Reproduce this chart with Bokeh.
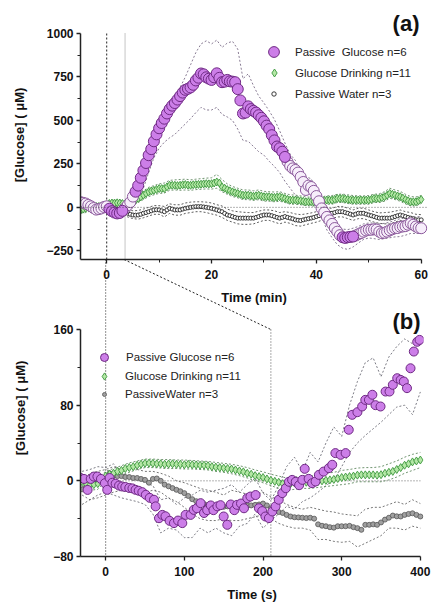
import numpy as np
from bokeh.plotting import figure
from bokeh.models import Range1d, FixedTicker, Span, Legend, LegendItem
from bokeh.core.properties import value
from bokeh.layouts import column
from bokeh.embed import file_html
from bokeh.resources import INLINE

# ---------------- DATA: panel (a), time in minutes ----------------
T_TOP = [-5 + 0.5 * i for i in range(131)]          # 30-s samples
T_TOP_BAND = list(range(-5, 61))                    # band read every minute

PG_TOP = [30, 26, 22, 14, 6, -4, -13, -10, -6, 2,
          6, -8, -22, -30, -35, -32, -20, -5, 12, 30,
          62, 90, 125, 170, 212, 255, 300, 335, 380, 420,
          455, 485, 510, 540, 565, 585, 600, 620, 640, 660,
          676, 682, 690, 705, 730, 746, 770, 765, 748, 740,
          733, 748, 771, 745, 720, 723, 733, 725, 723, 720,
          680, 615, 540, 545, 581, 565, 555, 545, 530, 515,
          495, 470, 450, 415, 385, 350, 340, 320, 290, 262,
          238, 224, 215, 200, 175, 146, 100, 125, 117, 95,
          65, 35, -6, -30, -55, -75, -95, -119, -140, -160,
          -172, -176, -172, -170, -168, -162, -155, -148, -140, -133,
          -129, -129, -126, -128, -140, -148, -146, -140, -132, -126,
          -120, -119, -112, -110, -108, -100, -92, -100, -110, -118,
          -120]
PG_TOP_FILLED = [(0.5, 3.0), (5.5, 34.0), (45.0, 47.0)]   # filled-marker windows
PG_TOP_HI = [55, 45, 30, 15, 15, 25, 0, -10, 5, 40,
             100, 160, 230, 350, 410, 460, 505, 570, 625, 690,
             750, 820, 890, 940, 958, 940, 962, 920, 945, 955,
             910, 740, 768, 700, 640, 600, 555, 505, 440, 370,
             305, 270, 200, 175, 165, 105, 55, 0, -40, -100,
             -125, -128, -120, -110, -95, -90, -90, -95, -92, -85,
             -75, -65, -62, -55, -55, -52]
PG_TOP_LO = [5, 0, -15, -35, -25, -10, -45, -60, -50, -20,
             10, 45, 110, 200, 285, 340, 375, 400, 420, 450,
             480, 510, 545, 575, 560, 560, 575, 535, 520, 500,
             450, 385, 380, 350, 320, 300, 265, 235, 200, 150,
             110, 70, 45, 25, 15, 5, -50, -130, -175, -215,
             -235, -242, -228, -205, -185, -176, -180, -185, -180, -175,
             -170, -168, -160, -150, -150, -148]

GD_TOP = [-15, -10, -5, 0, 2, 3, 5, 5, 8, 10,
          15, 22, 25, 24, 26, 25, 22, 15, 18, 25,
          32, 42, 51, 60, 70, 80, 89, 94, 98, 103,
          108, 108, 108, 118, 127, 127, 127, 125, 127, 130,
          131, 128, 127, 130, 131, 132, 133, 135, 136, 135,
          136, 140, 146, 140, 117, 110, 102, 95, 89, 84,
          80, 75, 70, 70, 70, 67, 64, 67, 70, 65,
          61, 61, 61, 58, 57, 59, 61, 56, 51, 46,
          42, 42, 42, 40, 38, 35, 32, 32, 32, 32,
          32, 34, 36, 39, 42, 42, 42, 46, 51, 51,
          51, 48, 45, 43, 42, 42, 42, 42, 42, 42,
          42, 46, 51, 51, 51, 56, 61, 70, 80, 75,
          70, 65, 61, 53, 45, 38, 32, 32, 32, 38,
          45]
GD_TOP_HI = [5, 15, 20, 20, 25, 30, 40, 42, 38, 40,
             55, 75, 95, 115, 125, 135, 140, 155, 158, 160,
             162, 158, 162, 165, 168, 170, 190, 160, 135, 120,
             110, 100, 100, 95, 100, 92, 90, 88, 90, 80,
             72, 70, 66, 60, 58, 56, 60, 66, 68, 75,
             76, 72, 68, 66, 66, 68, 75, 78, 90, 110,
             100, 92, 75, 62, 60, 68]
GD_TOP_LO = [-35, -30, -20, -15, -10, 0, 8, 10, 5, 0,
             10, 28, 45, 62, 72, 80, 82, 98, 100, 98,
             100, 98, 102, 104, 106, 105, 110, 90, 75, 62,
             55, 45, 44, 40, 44, 36, 35, 32, 35, 28,
             18, 18, 15, 10, 8, 8, 12, 18, 18, 28,
             28, 22, 18, 18, 18, 18, 28, 28, 35, 52,
             45, 35, 20, 8, 8, 22]

PW_TOP = [5, 2, 0, -3, -5, -6, -8, -6, -4, -2,
          0, -2, -5, -8, -10, -12, -15, -25, -34, -40,
          -44, -45, -44, -40, -34, -30, -25, -20, -15, -14,
          -15, -20, -25, -15, -6, -10, -15, -15, -15, -10,
          -6, -3, 0, 2, 4, 4, 4, 2, 0, -3,
          -6, -10, -15, -20, -25, -35, -44, -48, -53, -58,
          -62, -62, -62, -62, -62, -62, -62, -58, -53, -48,
          -44, -44, -44, -48, -53, -58, -62, -58, -53, -58,
          -62, -66, -72, -74, -76, -72, -68, -65, -62, -58,
          -53, -48, -44, -39, -34, -34, -34, -30, -25, -25,
          -25, -30, -34, -39, -44, -39, -34, -34, -34, -39,
          -44, -48, -53, -58, -62, -62, -62, -62, -62, -58,
          -53, -48, -44, -48, -53, -58, -62, -66, -72, -72,
          -72]
PW_TOP_HI = [25, 20, 15, 12, 15, 20, 15, 10, 5, -10,
             -20, -18, -10, 0, 10, 10, 5, 20, 15, 15,
             25, 30, 32, 32, 30, 25, 15, 8, -10, -20,
             -25, -28, -30, -30, -22, -15, -15, -20, -30, -25,
             -30, -38, -42, -38, -32, -25, -15, -5, -5, 5,
             5, -5, -15, -5, -5, -15, -25, -32, -30, -28,
             -22, -15, -25, -30, -40, -42]
PW_TOP_LO = [-15, -20, -25, -28, -25, -20, -25, -30, -35, -55,
             -65, -68, -60, -50, -40, -40, -55, -35, -45, -45,
             -35, -30, -25, -25, -30, -38, -45, -58, -75, -85,
             -95, -98, -98, -95, -85, -75, -75, -85, -95, -85,
             -92, -105, -108, -100, -92, -85, -75, -65, -65, -55,
             -55, -65, -75, -65, -65, -75, -85, -92, -95, -95,
             -85, -75, -82, -92, -102, -102]

# ---------------- DATA: panel (b), time in seconds ----------------
PG_BOT_T = [-32, -27.5, -23, -19, -15, -10.5, -6, -1, 2, 5, 8.5, 12.7, 17, 21, 25,
            30, 34, 38, 42, 46.6, 51, 56, 61.4, 63.5, 67.8, 72, 76, 81.3, 86.8,
            92, 97.4, 101.6, 108, 112, 116, 120.7, 125, 129, 133.6, 137, 142,
            146, 150, 154.6, 159, 163.5, 167, 172, 175.8, 180, 184, 190.6, 194.8,
            199, 203, 207.5, 211.8, 216, 220, 224.5, 229, 233, 237, 241.6, 245.9,
            250, 253, 258, 262.4, 266.8, 271, 277, 283.7, 288, 292, 298.6, 305,
            309, 313.4, 320, 326, 330, 334.6, 339, 343, 349.4, 355.8, 360.8, 365,
            370.6, 375, 379, 383, 387.5, 391.7, 396, 399]
PG_BOT_V = [3, 2, -9.6, 2, 4.5, 4.5, 2, -2.5, -9.5, 3, -2, -3, -5, -6, -6.5,
            -7.5, -8, -9.5, -10.5, -12, -14.8, -18, -20, -27, -39.5, -36, -37.5, -42.3, -44.7,
            -42, -44.7, -36, -36, -30.7, -29, -23.6, -34, -31, -26, -31, -27,
            -25.7, -37.7, -46.5, -25, -31, -25.4, -24, -29, -18.3, -16.6, -15, -29,
            -32, -37.7, -39.4, -32.4, -27, -20, -13, -7.8, -1, 1, -1, -4.6,
            1, 12.7, 2.1, -2.5, -0.7, 6.3, 9.8, 13.4, 17, 29.3, 27.5, 29.3,
            54, 69.8, 72.6, 78.6, 85.6, 85.6, 91, 80, 78.6, 94.4, 94.4, 101.5,
            108.5, 106.7, 105, 98, 119, 136.7, 147, 149]
S_BAND = list(range(-30, 401, 10))
PG_BOT_HI = [10, 12, 15, 14, 18, 8, 5, 2, -2, -5, -20, -18, -25, -18, -15, -10,
             -12, -10, -8, -4, -12, -4, 3, -13, -21, -5, 15, 25, 10, 30, 20, 40,
             57, 47, 80, 105, 125, 130, 110, 131, 142, 150, 145, 152]
PG_BOT_LO = [-15, -20, -15, -12, -15, -18, -20, -22, -25, -35, -55, -50, -52, -60,
             -60, -50, -55, -50, -55, -58, -48, -45, -35, -50, -42, -35, -27, -30,
             -22, -18, -12, -5, 1, 15, 30, 40, 48, 55, 62, 70, 78, 80, 70, 94]

S_BOT = [-30 + 5 * i for i in range(87)]             # 5-s samples
GD_BOT = [-1, -3, -4, -4, -3, 0,
          5, 7, 8, 10, 11, 13, 14, 15, 16.5, 17.6,
          18.5, 18.7, 18.5, 18, 18, 17.5, 17.8, 18, 17.5, 17.5,
          17, 17.5, 17, 16.8, 16.5, 16.5, 16, 15, 14.5, 14,
          13.5, 13, 12.5, 11.5, 10.5, 9.5, 8, 7, 5.5, 4.5,
          3.5, 2, 0.5, -0.5, -1.5, -3, -3.5, -3, -2, -1.5,
          -1, -1.5, -1.5, -1, -0.7, 0, 0.5, 1, 1.5, 2.5,
          3.5, 4, 4.5, 5, 6, 6.3, 6.3, 6.3, 6.3, 6,
          6.5, 8, 9, 10, 12, 14, 16.5, 18, 20, 21,
          22]
GD_BOT_HI = [5, 2, 3, 10, 13, 16, 19, 21, 23, 23, 22.5, 22.5, 22, 22, 21.5, 21,
             20.5, 19.5, 18.5, 17.5, 16, 14, 11.5, 9.5, 7, 5, 3, 4, 5, 5, 6, 8,
             9, 11, 12, 13.5, 14, 14, 15, 18, 21, 25, 28, 30]
GD_BOT_LO = [-6, -10, -9, 0, 3, 6, 9, 12, 14, 14, 13.5, 13, 13, 12.5, 12.5, 12,
             11.5, 10, 9, 7.5, 5.5, 3, 0, -2, -5, -8, -10, -9, -8, -8, -7, -6,
             -5, -4, -3, -1, -1, -1, -1, 1, 4, 8, 11, 14]

PW_BOT = [-9, -6, -3, -2, 0, 2,
          4, 8, 6, 5, 5, 4, 4, 3, 3, 2,
          1, -2, 2, 2.5, 0, -4, -5.8, -7.7, -9.5, -11,
          -13, -16, -19.4, -21.5, -23.6, -24.5, -25.4, -26, -27, -27,
          -27.5, -27, -27, -26.5, -26, -26, -26.4, -26, -25.4, -25,
          -24, -26, -29, -31, -33, -34, -36, -37.7, -38.5, -38.7,
          -39, -39.4, -39, -40, -46, -47.5, -48, -49, -49.5, -48,
          -48, -48, -47.6, -49, -50, -51.8, -46.5, -46.5, -46, -46.5,
          -44, -41, -39, -36.7, -37.5, -37.7, -36, -35, -34.3, -36,
          -37.7]
PW_BOT_HI = [0, 8, 10, 12, 15, 12, 14, 12, 10, 10, 8, 5, 0, -2, -5, -8, -10, -12,
             -15, -10, -12, -14, -15, -12, -17, -20, -25, -28, -30, -28, -30, -32,
             -33, -35, -36, -37, -30, -28, -28, -25, -22, -25, -20, -24]
PW_BOT_LO = [-25, -20, -18, -15, -12, -10, -12, -10, -12, -10, -12, -18, -22, -28,
             -35, -40, -42, -42, -40, -42, -42, -40, -38, -36, -40, -45, -48, -50,
             -50, -52, -62, -62, -64, -65, -64, -70, -66, -62, -58, -50, -50, -52,
             -48, -50]

LABELS_TOP = ["Passive  Glucose n=6", "Glucose Drinking n=11", "Passive Water n=3"]
LABELS_BOT = ["Passive Glucose n=6", "Glucose Drinking n=11", "PassiveWater n=3"]
TICKS_TOP_X = [0, 20, 40, 60]
TICKS_TOP_Y = [-250, 0, 250, 500, 750, 1000]
TICKS_BOT_X = [0, 100, 200, 300, 400]
TICKS_BOT_Y = [-80, 0, 80, 160]
SWITCH_MIN = 3.5      # end of zoomed window, min
SWITCH_S = 210        # same, in seconds

# ---------------- STYLE / GEOMETRY ----------------
FONT = "Liberation Sans"
PURPLE_FILL, PURPLE_LINE = "#cc7ee8", "#6f2a84"
OPEN_FILL, OPEN_LINE = "#f7eefb", "#8c5a9c"
GREEN_FILL, GREEN_LINE = "#b4e7a6", "#3c973c"
PAGE = 0            # the Bokeh page template sets body margin to 0
W = 442
# panel (a): data box -300..1000 spans 226 px; 23 px of frame above it for "(a)"
TOP_AX_Y = (-300, 1000)
TOP_PANEL_H, TOP_EXTRA = 226, 23
TOP_X = (-5, 61.2)
TOP_Y = (TOP_AX_Y[0], TOP_AX_Y[1] + TOP_EXTRA * (TOP_AX_Y[1] - TOP_AX_Y[0]) / TOP_PANEL_H)
TOP_FW, TOP_FH = 347, TOP_PANEL_H + TOP_EXTRA
TOP_BL, TOP_BT, TOP_BB = 79, 10, 48
TOP_H = TOP_BT + TOP_FH + TOP_BB
# panel (b): data box -80..160 spans 227 px; frame reaches 70 px higher, up to panel (a)
BOT_AX_Y = (-80, 160)
BOT_PANEL_H, BOT_EXTRA = 227, 70
BOT_X = (-32, 404)
BOT_Y = (BOT_AX_Y[0], BOT_AX_Y[1] + BOT_EXTRA * (BOT_AX_Y[1] - BOT_AX_Y[0]) / BOT_PANEL_H)
BOT_FW, BOT_FH = 343, BOT_PANEL_H + BOT_EXTRA
BOT_BL, BOT_BT, BOT_BB = 80, 0, 48
OVERLAP = TOP_BB      # panel (b) canvas starts right under panel (a) frame
BOT_TOP_PAGE = PAGE + TOP_H - OVERLAP


def top_px(t, v):
    x = PAGE + TOP_BL + (t - TOP_X[0]) / (TOP_X[1] - TOP_X[0]) * TOP_FW
    y = PAGE + TOP_BT + (TOP_Y[1] - v) / (TOP_Y[1] - TOP_Y[0]) * TOP_FH
    return x, y


def top_data(x, y):
    t = TOP_X[0] + (x - PAGE - TOP_BL) / TOP_FW * (TOP_X[1] - TOP_X[0])
    v = TOP_Y[1] - (y - PAGE - TOP_BT) / TOP_FH * (TOP_Y[1] - TOP_Y[0])
    return t, v


def bot_data(x, y):
    s = BOT_X[0] + (x - PAGE - BOT_BL) / BOT_FW * (BOT_X[1] - BOT_X[0])
    v = BOT_Y[1] - (y - BOT_TOP_PAGE - BOT_BT) / BOT_FH * (BOT_Y[1] - BOT_Y[0])
    return s, v


def style(p, xticks, xminor, yticks, yminor, xlabel, ystand, xbounds, ybounds):
    p.grid.visible = False
    p.outline_line_color = None
    for ax in (p.xaxis[0], p.yaxis[0]):
        ax.axis_line_width = 1.5
        ax.axis_line_color = "#222222"
        ax.major_tick_line_color = "#222222"
        ax.minor_tick_line_color = "#222222"
        ax.major_tick_line_width = 1.3
        ax.minor_tick_line_width = 1.0
        ax.major_tick_in = 0
        ax.major_tick_out = 4
        ax.minor_tick_in = 0
        ax.minor_tick_out = 3
        ax.major_label_text_font = FONT
        ax.major_label_text_font_style = "bold"
        ax.major_label_text_font_size = "12px"
        ax.major_label_text_color = "#111111"
        ax.axis_label_text_font = FONT
        ax.axis_label_text_font_style = "bold"
        ax.axis_label_text_font_size = "13px"
        ax.axis_label_text_color = "#111111"
    p.xaxis[0].ticker = FixedTicker(ticks=xticks, minor_ticks=xminor)
    p.yaxis[0].ticker = FixedTicker(ticks=yticks, minor_ticks=yminor)
    p.xaxis[0].axis_label = xlabel
    p.yaxis[0].axis_label = "[Glucose] ( \u03bcM)"
    p.xaxis[0].major_label_standoff = 6
    p.yaxis[0].major_label_standoff = 3
    p.xaxis[0].axis_label_standoff = 8
    p.yaxis[0].axis_label_standoff = ystand
    p.xaxis[0].bounds = xbounds
    p.yaxis[0].bounds = ybounds


def band(p, x, y, color):
    p.line(x, y, line_color=color, line_width=0.8, line_dash="2 2")


def make_legend(p, renderer, label, cx, cy, frame_left, frame_bottom, g, h, text_x):
    lg = Legend(items=[LegendItem(label=label, renderers=[renderer])],
                location=(int(round(cx - g / 2 - frame_left)),
                          int(round(frame_bottom - (cy + h / 2)))),
                glyph_width=int(g), glyph_height=int(h), label_height=int(h),
                label_standoff=int(round(text_x - cx - g / 2)),
                padding=0, margin=0, spacing=0, border_line_alpha=0,
                background_fill_alpha=0, label_text_font=FONT,
                label_text_font_size="11.5px", label_text_color="#222222")
    p.add_layout(lg)


# ---------------- PANEL (a) ----------------
top = figure(frame_width=TOP_FW, frame_height=TOP_FH, x_range=Range1d(*TOP_X),
             y_range=Range1d(*TOP_Y), output_backend="svg", toolbar_location=None,
             min_border_left=TOP_BL, min_border_right=W - TOP_BL - TOP_FW,
             min_border_top=TOP_BT, min_border_bottom=TOP_BB)
style(top, TICKS_TOP_X, [10, 30, 50], TICKS_TOP_Y, [-125, 125, 375, 625, 875],
      "Time (min)", 16, (-5, 60), TOP_AX_Y)

top.add_layout(Span(location=0, dimension="width", line_color="#444444",
                    line_width=0.8, line_dash="1 2"))
top.segment(x0=[0], y0=[TOP_AX_Y[1]], x1=[0], y1=[TOP_AX_Y[0]],
            line_color="#222222", line_width=1, line_dash="2 2")
top.segment(x0=[SWITCH_MIN], y0=[TOP_AX_Y[1]], x1=[SWITCH_MIN], y1=[TOP_AX_Y[0]],
            line_color="#8a8a8a", line_width=1, line_dash="1 1")

band(top, T_TOP_BAND, PG_TOP_HI, "#6b5a78")
band(top, T_TOP_BAND, PG_TOP_LO, "#6b5a78")
band(top, T_TOP_BAND, GD_TOP_HI, "#4d7a4d")
band(top, T_TOP_BAND, GD_TOP_LO, "#4d7a4d")
band(top, T_TOP_BAND, PW_TOP_HI, "#333333")
band(top, T_TOP_BAND, PW_TOP_LO, "#333333")

r_pw = top.scatter(T_TOP, PW_TOP, marker="circle", size=4, fill_color="white",
                   line_color="#222222", line_width=0.9)
r_gd = top.scatter(T_TOP, GD_TOP, marker="diamond", size=8,
                   fill_color=GREEN_FILL, line_color=GREEN_LINE, line_width=0.9)

t_arr = np.array(T_TOP)
v_arr = np.array(PG_TOP)
filled = np.zeros(len(t_arr), dtype=bool)
for a, b in PG_TOP_FILLED:
    filled |= (t_arr >= a) & (t_arr <= b)
top.scatter(t_arr[~filled], v_arr[~filled], marker="circle", size=11,
            fill_color=OPEN_FILL, line_color=OPEN_LINE, line_width=1)
r_pg = top.scatter(t_arr[filled], v_arr[filled], marker="circle", size=11,
                   fill_color=PURPLE_FILL, line_color=PURPLE_LINE, line_width=1)

ta, va = top_data(418, 23)
top.text(x=[ta], y=[va], text=["(a)"], text_align="right", text_baseline="middle",
         text_font=value(FONT), text_font_style=value("bold"),
         text_font_size=value("22px"), text_color="#111111")

fl_top = PAGE + TOP_BL
fb_top = PAGE + TOP_BT + TOP_FH
make_legend(top, r_pg, LABELS_TOP[0], 272.7, 51.7, fl_top, fb_top, 27, 27, 294)
make_legend(top, r_gd, LABELS_TOP[1], 272.7, 72.7, fl_top, fb_top, 20, 27, 294)
make_legend(top, r_pw, LABELS_TOP[2], 272.7, 93.3, fl_top, fb_top, 11, 27, 294)

# ---------------- PANEL (b) ----------------
bot = figure(frame_width=BOT_FW, frame_height=BOT_FH, x_range=Range1d(*BOT_X),
             y_range=Range1d(*BOT_Y), output_backend="svg", toolbar_location=None,
             min_border_left=BOT_BL, min_border_right=W - BOT_BL - BOT_FW,
             min_border_top=BOT_BT, min_border_bottom=BOT_BB)
style(bot, TICKS_BOT_X, [], TICKS_BOT_Y, [-40, 40, 120], "Time (s)", 22,
      (-32, 400), BOT_AX_Y)
bot.background_fill_alpha = 0
bot.border_fill_alpha = 0
bot.styles = {"margin-top": f"-{OVERLAP}px"}

bot.segment(x0=[-32], y0=[0], x1=[400], y1=[0],
            line_color="#444444", line_width=0.8, line_dash="1 2")
bot.segment(x0=[SWITCH_S], y0=[BOT_AX_Y[1]], x1=[SWITCH_S], y1=[BOT_AX_Y[0]],
            line_color="#555555", line_width=1, line_dash="1 2")
bot.segment(x0=[0], y0=[BOT_Y[1]], x1=[0], y1=[BOT_AX_Y[0]],
            line_color="#222222", line_width=1, line_dash="1 2")
# dashed link from the end of the zoom window in (a) to t = 210 s in (b)
p1 = top_px(SWITCH_MIN, TOP_AX_Y[0])
s1, w1 = bot_data(*p1)
bot.segment(x0=[s1], y0=[w1], x1=[SWITCH_S], y1=[BOT_AX_Y[1]],
            line_color="#222222", line_width=1, line_dash="2 2")

band(bot, S_BAND, PG_BOT_HI, "#5a5a66")
band(bot, S_BAND, PG_BOT_LO, "#5a5a66")
band(bot, S_BAND, GD_BOT_HI, "#4d7a4d")
band(bot, S_BAND, GD_BOT_LO, "#4d7a4d")
band(bot, S_BAND, PW_BOT_HI, "#555555")
band(bot, S_BAND, PW_BOT_LO, "#555555")

b_pw = bot.scatter(S_BOT, PW_BOT, marker="circle", size=5, fill_color="#a0a0a0",
                   line_color="#555555", line_width=0.8)
b_gd = bot.scatter(S_BOT, GD_BOT, marker="diamond", size=8,
                   fill_color=GREEN_FILL, line_color=GREEN_LINE, line_width=0.9)
b_pg = bot.scatter(PG_BOT_T, PG_BOT_V, marker="circle", size=9,
                   fill_color=PURPLE_FILL, line_color=PURPLE_LINE, line_width=1)

sb, vb = bot_data(420, 321)
bot.text(x=[sb], y=[vb], text=["(b)"], text_align="right", text_baseline="middle",
         text_font=value(FONT), text_font_style=value("bold"),
         text_font_size=value("22px"), text_color="#111111")

fl_bot = PAGE + BOT_BL
fb_bot = BOT_TOP_PAGE + BOT_BT + BOT_FH
make_legend(bot, b_pg, LABELS_BOT[0], 104, 356.7, fl_bot, fb_bot, 20, 20, 125.5)
make_legend(bot, b_gd, LABELS_BOT[1], 104, 376, fl_bot, fb_bot, 18, 20, 125.5)
make_legend(bot, b_pw, LABELS_BOT[2], 104, 394, fl_bot, fb_bot, 10, 20, 125.5)

layout = column(top, bot, spacing=0)
open("out.html", "w").write(file_html(layout, INLINE))
